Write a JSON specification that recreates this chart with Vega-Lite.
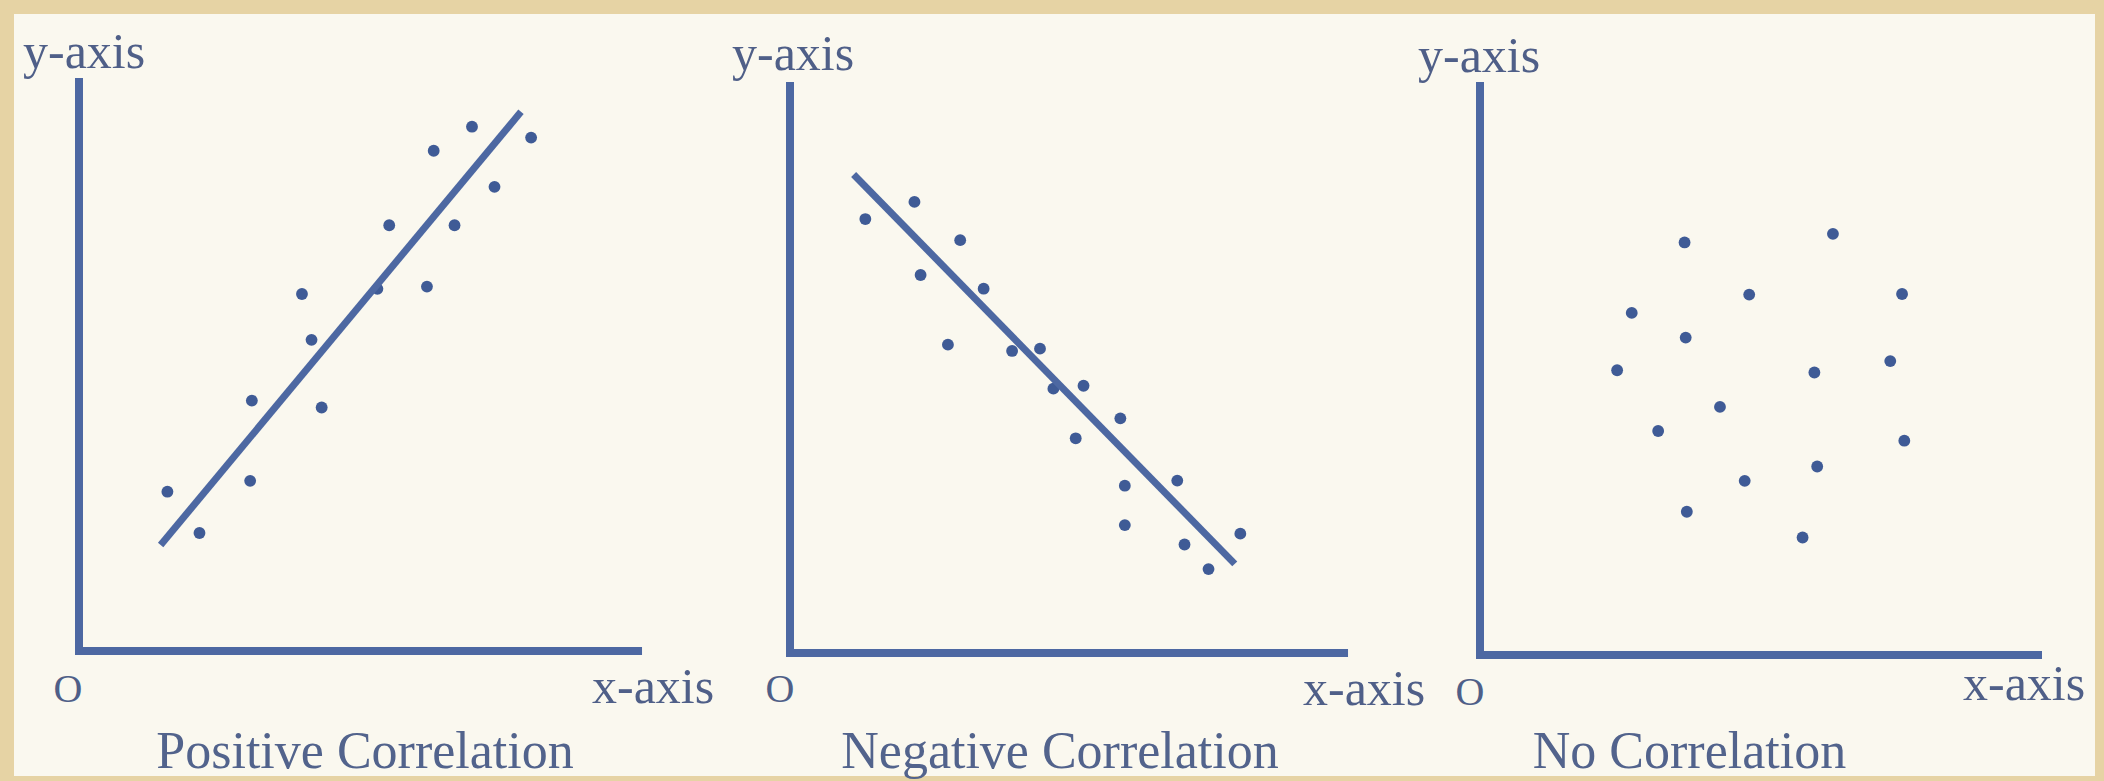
{
  "$schema": "https://vega.github.io/schema/vega-lite/v6.json",
  "background": "#e6d3a4",
  "padding": {"left": 14, "top": 14, "right": 9, "bottom": 5},
  "spacing": 0,
  "bounds": "flush",
  "config": {
    "view": {"fill": "#faf8ef", "stroke": null},
    "axis": {"disable": true},
    "font": "Liberation Serif",
    "title": {"font": "Liberation Serif", "fontSize": 52, "fontWeight": "normal", "color": "#52638c", "orient": "bottom", "anchor": "middle", "frame": "group", "offset": -49}
  },
  "datasets": {
    "pos": [
      {"x": 1.57, "y": 2.78}, {"x": 2.14, "y": 2.06}, {"x": 3.04, "y": 2.97}, {"x": 3.07, "y": 4.37},
      {"x": 3.96, "y": 6.23}, {"x": 4.13, "y": 5.43}, {"x": 4.31, "y": 4.25}, {"x": 5.30, "y": 6.32},
      {"x": 5.51, "y": 7.43}, {"x": 6.18, "y": 6.36}, {"x": 6.30, "y": 8.73}, {"x": 6.67, "y": 7.43},
      {"x": 6.98, "y": 9.15}, {"x": 7.38, "y": 8.10}, {"x": 8.03, "y": 8.96}
    ],
    "posLine": [{"x": 1.45, "y": 1.85}, {"x": 7.85, "y": 9.41}],
    "neg": [
      {"x": 1.35, "y": 7.60}, {"x": 2.23, "y": 7.90}, {"x": 2.34, "y": 6.62}, {"x": 3.05, "y": 7.23},
      {"x": 2.83, "y": 5.40}, {"x": 3.47, "y": 6.38}, {"x": 3.98, "y": 5.29}, {"x": 4.48, "y": 5.33},
      {"x": 4.72, "y": 4.63}, {"x": 5.26, "y": 4.68}, {"x": 5.12, "y": 3.76}, {"x": 5.92, "y": 4.11},
      {"x": 6.00, "y": 2.93}, {"x": 6.00, "y": 2.24}, {"x": 6.94, "y": 3.02}, {"x": 7.07, "y": 1.90},
      {"x": 7.50, "y": 1.47}, {"x": 8.07, "y": 2.09}
    ],
    "negLine": [{"x": 1.14, "y": 8.38}, {"x": 7.97, "y": 1.56}],
    "none": [
      {"x": 3.64, "y": 7.20}, {"x": 6.28, "y": 7.35}, {"x": 4.79, "y": 6.29}, {"x": 7.51, "y": 6.30},
      {"x": 2.70, "y": 5.97}, {"x": 3.66, "y": 5.54}, {"x": 2.44, "y": 4.97}, {"x": 7.30, "y": 5.13},
      {"x": 5.95, "y": 4.93}, {"x": 4.27, "y": 4.33}, {"x": 3.17, "y": 3.91}, {"x": 7.55, "y": 3.74},
      {"x": 6.00, "y": 3.29}, {"x": 4.71, "y": 3.04}, {"x": 3.68, "y": 2.50}, {"x": 5.74, "y": 2.05}
    ]
  },
  "hconcat": [
    {
      "width": 710, "height": 762,
      "title": {"text": "Positive Correlation", "dx": -4},
      "layer": [
        {"data": {"name": "pos"}, "mark": {"type": "circle", "size": 140, "color": "#3f5b96", "opacity": 1},
         "encoding": {
           "x": {"field": "x", "type": "quantitative", "scale": {"domain": [-1.1545, 11.456], "nice": false, "zero": false}, "axis": null},
           "y": {"field": "y", "type": "quantitative", "scale": {"domain": [-2.1815, 11.117], "nice": false, "zero": false}, "axis": null}}},
        {"data": {"name": "posLine"}, "mark": {"type": "line", "color": "#4d68a2", "strokeWidth": 7},
         "encoding": {"x": {"field": "x", "type": "quantitative"}, "y": {"field": "y", "type": "quantitative"}}},
        {"data": {"values": [{"k": 0}]}, "mark": {"type": "rule", "color": "#4d68a2", "strokeWidth": 8, "strokeCap": "butt"},
         "encoding": {"x": {"datum": -0.07, "type": "quantitative"}, "x2": {"datum": 10}, "y": {"datum": 0, "type": "quantitative"}}},
        {"data": {"values": [{"k": 0}]}, "mark": {"type": "rule", "color": "#4d68a2", "strokeWidth": 8, "strokeCap": "butt"},
         "encoding": {"x": {"datum": 0, "type": "quantitative"}, "y": {"datum": -0.07, "type": "quantitative"}, "y2": {"datum": 10}}},
        {"data": {"values": [{"k": 0}]}, "mark": {"type": "text", "text": "y-axis", "align": "left", "baseline": "alphabetic", "dx": -56, "dy": -10, "fontSize": 50, "color": "#4f5f88"},
         "encoding": {"x": {"datum": 0, "type": "quantitative"}, "y": {"datum": 10, "type": "quantitative"}}},
        {"data": {"values": [{"k": 0}]}, "mark": {"type": "text", "text": "O", "align": "center", "baseline": "alphabetic", "dx": -11, "dy": 51, "fontSize": 40, "color": "#4f5f88"},
         "encoding": {"x": {"datum": 0, "type": "quantitative"}, "y": {"datum": 0, "type": "quantitative"}}},
        {"data": {"values": [{"k": 0}]}, "mark": {"type": "text", "text": "x-axis", "align": "left", "baseline": "alphabetic", "dx": -50, "dy": 52, "fontSize": 50, "color": "#4f5f88"},
         "encoding": {"x": {"datum": 10, "type": "quantitative"}, "y": {"datum": 0, "type": "quantitative"}}}
      ]
    },
    {
      "width": 706, "height": 762,
      "title": {"text": "Negative Correlation", "dx": -17},
      "layer": [
        {"data": {"name": "neg"}, "mark": {"type": "circle", "size": 140, "color": "#3f5b96", "opacity": 1},
         "encoding": {
           "x": {"field": "x", "type": "quantitative", "scale": {"domain": [-1.1828, 11.469], "nice": false, "zero": false}, "axis": null},
           "y": {"field": "y", "type": "quantitative", "scale": {"domain": [-2.1541, 11.191], "nice": false, "zero": false}, "axis": null}}},
        {"data": {"name": "negLine"}, "mark": {"type": "line", "color": "#4d68a2", "strokeWidth": 7},
         "encoding": {"x": {"field": "x", "type": "quantitative"}, "y": {"field": "y", "type": "quantitative"}}},
        {"data": {"values": [{"k": 0}]}, "mark": {"type": "rule", "color": "#4d68a2", "strokeWidth": 8, "strokeCap": "butt"},
         "encoding": {"x": {"datum": -0.07, "type": "quantitative"}, "x2": {"datum": 10}, "y": {"datum": 0, "type": "quantitative"}}},
        {"data": {"values": [{"k": 0}]}, "mark": {"type": "rule", "color": "#4d68a2", "strokeWidth": 8, "strokeCap": "butt"},
         "encoding": {"x": {"datum": 0, "type": "quantitative"}, "y": {"datum": -0.07, "type": "quantitative"}, "y2": {"datum": 10}}},
        {"data": {"values": [{"k": 0}]}, "mark": {"type": "text", "text": "y-axis", "align": "left", "baseline": "alphabetic", "dx": -58, "dy": -12, "fontSize": 50, "color": "#4f5f88"},
         "encoding": {"x": {"datum": 0, "type": "quantitative"}, "y": {"datum": 10, "type": "quantitative"}}},
        {"data": {"values": [{"k": 0}]}, "mark": {"type": "text", "text": "O", "align": "center", "baseline": "alphabetic", "dx": -10, "dy": 49, "fontSize": 40, "color": "#4f5f88"},
         "encoding": {"x": {"datum": 0, "type": "quantitative"}, "y": {"datum": 0, "type": "quantitative"}}},
        {"data": {"values": [{"k": 0}]}, "mark": {"type": "text", "text": "x-axis", "align": "left", "baseline": "alphabetic", "dx": -45, "dy": 52, "fontSize": 50, "color": "#4f5f88"},
         "encoding": {"x": {"datum": 10, "type": "quantitative"}, "y": {"datum": 0, "type": "quantitative"}}}
      ]
    },
    {
      "width": 665, "height": 762,
      "title": {"text": "No Correlation", "dx": -73},
      "layer": [
        {"data": {"name": "none"}, "mark": {"type": "circle", "size": 140, "color": "#3f5b96", "opacity": 1},
         "encoding": {
           "x": {"field": "x", "type": "quantitative", "scale": {"domain": [-0.8897, 10.943], "nice": false, "zero": false}, "axis": null},
           "y": {"field": "y", "type": "quantitative", "scale": {"domain": [-2.1117, 11.187], "nice": false, "zero": false}, "axis": null}}},
        {"data": {"values": [{"k": 0}]}, "mark": {"type": "rule", "color": "#4d68a2", "strokeWidth": 8, "strokeCap": "butt"},
         "encoding": {"x": {"datum": -0.07, "type": "quantitative"}, "x2": {"datum": 10}, "y": {"datum": 0, "type": "quantitative"}}},
        {"data": {"values": [{"k": 0}]}, "mark": {"type": "rule", "color": "#4d68a2", "strokeWidth": 8, "strokeCap": "butt"},
         "encoding": {"x": {"datum": 0, "type": "quantitative"}, "y": {"datum": -0.07, "type": "quantitative"}, "y2": {"datum": 10}}},
        {"data": {"values": [{"k": 0}]}, "mark": {"type": "text", "text": "y-axis", "align": "left", "baseline": "alphabetic", "dx": -62, "dy": -10, "fontSize": 50, "color": "#4f5f88"},
         "encoding": {"x": {"datum": 0, "type": "quantitative"}, "y": {"datum": 10, "type": "quantitative"}}},
        {"data": {"values": [{"k": 0}]}, "mark": {"type": "text", "text": "O", "align": "center", "baseline": "alphabetic", "dx": -10, "dy": 50, "fontSize": 40, "color": "#4f5f88"},
         "encoding": {"x": {"datum": 0, "type": "quantitative"}, "y": {"datum": 0, "type": "quantitative"}}},
        {"data": {"values": [{"k": 0}]}, "mark": {"type": "text", "text": "x-axis", "align": "left", "baseline": "alphabetic", "dx": -79, "dy": 45, "fontSize": 50, "color": "#4f5f88"},
         "encoding": {"x": {"datum": 10, "type": "quantitative"}, "y": {"datum": 0, "type": "quantitative"}}}
      ]
    }
  ]
}
